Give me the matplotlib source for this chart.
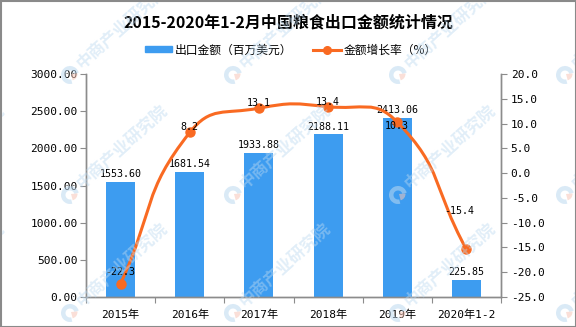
import numpy as np
import matplotlib
matplotlib.use("Agg")
import matplotlib.pyplot as plt
from matplotlib.path import Path
from matplotlib.patches import PathPatch, Rectangle, Wedge
from matplotlib.lines import Line2D

categories = ["2015年", "2016年", "2017年", "2018年", "2019年", "2020年1-2"]
export_value = [1553.60, 1681.54, 1933.88, 2188.11, 2413.06, 225.85]   # 百万美元
growth_rate = [-22.3, 8.2, 13.1, 13.4, 10.3, -15.4]                    # %
left_ticks = [0, 500, 1000, 1500, 2000, 2500, 3000]
right_ticks = [-25, -20, -15, -10, -5, 0, 5, 10, 15, 20]

BAR = "#3d9cf0"
LINE = "#f96a22"
SPINE = "#8c8c8c"
CJK = ["Noto Sans CJK SC", "DejaVu Sans"]
MONO = ["DejaVu Sans Mono", "Noto Sans CJK SC"]

fig = plt.figure(figsize=(5.76, 3.27), dpi=100)
ax = fig.add_axes([86 / 576, 1 - 297 / 327, 415 / 576, 223 / 327])
ax2 = ax.twinx()

x = np.arange(len(categories))
ax.bar(x, export_value, width=0.42, color=BAR, zorder=2)
ax.set_xlim(-0.5, len(categories) - 0.5)
ax.set_ylim(0, 3000)
ax2.set_ylim(-25, 20)

# value labels on bars
for xi, v in zip(x, export_value):
    ax.annotate(f"{v:.2f}", (xi, v), xytext=(0, 2), textcoords="offset points",
                ha="center", va="bottom", fontsize=7.2, family=MONO, zorder=5)

# smooth growth-rate curve (cubic Bezier through every point)
fig.canvas.draw()
pts = ax2.transData.transform(np.column_stack([x, growth_rate]))
smooth = 0.5
n = len(pts)
cps_after, cps_before = [], []
for i in range(n):
    p = pts[i]
    prev = pts[i - 1] if i > 0 else p
    nxt = pts[i + 1] if i < n - 1 else p
    v = (nxt - prev) * smooth
    d0 = np.linalg.norm(p - prev)
    d1 = np.linalg.norm(p - nxt)
    s = d0 + d1
    if s > 0:
        d0, d1 = d0 / s, d1 / s
    cps_before.append(p - v * d0)
    cps_after.append(p + v * d1)
verts = [pts[0]]
codes = [Path.MOVETO]
for i in range(n - 1):
    verts += [cps_after[i], cps_before[i + 1], pts[i + 1]]
    codes += [Path.CURVE4] * 3
verts = ax2.transData.inverted().transform(np.array(verts))
ax2.add_patch(PathPatch(Path(verts, codes), facecolor="none", edgecolor=LINE,
                        lw=2.2, zorder=3, capstyle="round"))
ax2.plot(x, growth_rate, "o", color=LINE, ms=6.5, zorder=4, lw=0)

label_offsets = [(0, 5, "bottom"), (0, 0, "bottom"), (0, 0, "bottom"),
                 (0, 0, "bottom"), (0, -3, "center"), (-5, 24, "bottom")]
for xi, v, (dx, dy, va) in zip(x, growth_rate, label_offsets):
    ax2.annotate(f"{v:.1f}", (xi, v), xytext=(dx, dy), textcoords="offset points",
                 ha="center", va=va, fontsize=7.2, family=MONO, zorder=6)

# axes styling
ax.set_xticks(np.arange(len(categories) + 1) - 0.5)
ax.set_xticklabels([])
ax.set_xticks(x, minor=True)
ax.set_xticklabels(categories, minor=True, family=MONO, fontsize=8)
ax.tick_params(axis="x", which="major", length=4, color=SPINE, direction="out")
ax.tick_params(axis="x", which="minor", length=0, pad=9)

ax.set_yticks(left_ticks)
ax.set_yticklabels([f"{t:.2f}" for t in left_ticks], family=MONO, fontsize=8)
ax.tick_params(axis="y", length=4, color=SPINE, direction="out", pad=2)
ax2.set_yticks(right_ticks)
ax2.set_yticklabels([f"{t:.1f}" for t in right_ticks], family=MONO, fontsize=8)
ax2.tick_params(axis="y", length=4, color=SPINE, direction="out", pad=3)

for a in (ax, ax2):
    a.spines["top"].set_visible(False)
    for side in ("left", "right", "bottom"):
        a.spines[side].set_color(SPINE)
        a.spines[side].set_linewidth(1)
ax.patch.set_visible(False)

# title
fig.text(0.5, 1 - 22 / 327, "2015-2020年1-2月中国粮食出口金额统计情况",
         ha="center", va="center", fontsize=11.5, fontweight="bold", family=CJK)

# legend
fig.patches.append(Rectangle((145 / 576, 1 - 52 / 327), 27 / 576, 6 / 327,
                             transform=fig.transFigure, color=BAR))
fig.text(175 / 576, 1 - 50 / 327, "出口金额（百万美元）", ha="left", va="center",
         fontsize=8.5, family=CJK)
fig.lines.append(Line2D([313 / 576, 341 / 576], [1 - 50 / 327] * 2,
                        transform=fig.transFigure, color=LINE, lw=2.2))
fig.lines.append(Line2D([327 / 576], [1 - 50 / 327], transform=fig.transFigure,
                        color=LINE, marker="o", ms=5.5))
fig.text(344 / 576, 1 - 50 / 327, "金额增长率（%）", ha="left", va="center",
         fontsize=8.5, family=CJK)

# tiled brand watermark, drawn in pixel coordinates on a full-figure overlay
wm = fig.add_axes([0, 0, 1, 1], zorder=10)
wm.set_xlim(0, 576)
wm.set_ylim(327, 0)
wm.axis("off")
wm.patch.set_visible(False)
for ly in (-45, 75, 195, 313):
    for lx in (-93, 70, 233, 398, 565):
        wm.add_patch(Wedge((lx, ly), 9, 75, 345, width=4.5,
                           color="#bcd9f0", alpha=0.55, lw=0))
        wm.add_patch(Wedge((lx + 1, ly - 1), 6.5, -5, 75,
                           color="#f6c6b8", alpha=0.55, lw=0))
        wm.text(lx + 9, ly - 9, "中商产业研究院", rotation=42,
                rotation_mode="anchor", ha="left", va="center",
                fontsize=12, fontweight="bold", family=CJK,
                color="#bcd9f0", alpha=0.45)

# outer frame
fig.patches.append(Rectangle((0.5 / 576, 0.5 / 327), 575 / 576, 326 / 327,
                             transform=fig.transFigure, fill=False,
                             edgecolor="#8a8a8a", lw=1.5, zorder=20))

fig.savefig("out.png", dpi=100)
